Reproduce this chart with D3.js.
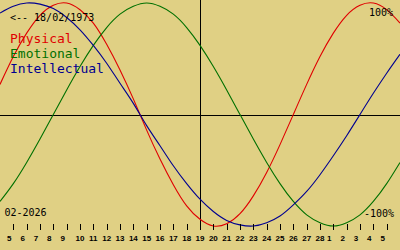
<!DOCTYPE html>
<html>
<head>
<meta charset="utf-8">
<script src="https://cdn.jsdelivr.net/npm/d3@7"></script>
<style>
  body { margin: 0; background: #e0d084; }
  svg { display: block; }
</style>
</head>
<body>
<svg id="chart" width="400" height="250"></svg>
<script>
// days shown, Feb 4 .. Mar 6 2026 (first/last are edge days without tick)
const dayLabels = ["4","5","6","7","8","9","10","11","12","13","14","15","16","17","18","19","20","21","22","23","24","25","26","27","28","1","2","3","4","5","6"];
const physical = [0.27,0.52,0.73,0.89,0.98,1.00,0.94,0.82,0.63,0.40,0.14,-0.14,-0.40,-0.63,-0.82,-0.94,-1.00,-0.98,-0.89,-0.73,-0.52,-0.27,0,0.27,0.52,0.73,0.89,0.98,1.00,0.94,0.82];
const emotional = [-0.78,-0.62,-0.43,-0.22,0,0.22,0.43,0.62,0.78,0.90,0.97,1.00,0.97,0.90,0.78,0.62,0.43,0.22,0,-0.22,-0.43,-0.62,-0.78,-0.90,-0.97,-1.00,-0.97,-0.90,-0.78,-0.62,-0.43];
const intellectual = [0.91,0.97,1.00,0.99,0.95,0.87,0.76,0.62,0.46,0.28,0.10,-0.10,-0.28,-0.46,-0.62,-0.76,-0.87,-0.95,-0.99,-1.00,-0.97,-0.91,-0.81,-0.69,-0.54,-0.37,-0.19,0,0.19,0.37,0.54];
const legend = ["Physical","Emotional","Intellectual"];
const colors = ["#e00000","#007000","#000090"];
const birthText = "<-- 18/02/1973";
const monthText = "02-2026";

const svg = d3.select("#chart");
const W = 400, H = 250;

let x = d3.scaleLinear().domain([0, 30]).range([0, W]);
let y = d3.scaleLinear().domain([-1, 1]).range([226, 3]);

// axes cross
svg.append("line").attr("x1",0).attr("x2",W).attr("y1",115.5).attr("y2",115.5)
  .attr("stroke","#000").attr("stroke-width",1);
svg.append("line").attr("x1",200.5).attr("x2",200.5).attr("y1",0).attr("y2",225)
  .attr("stroke","#000").attr("stroke-width",1);

// curves
let line = d3.line().x((d,i)=>x(i)).y(d=>y(d)).curve(d3.curveNatural);
[physical, emotional, intellectual].map((s,k)=>{
  svg.append("path").attr("d", line(s))
    .attr("fill","none").attr("stroke",colors[k]).attr("stroke-width",1.1);
});

// day ticks
let ticks = d3.range(1, 30);
svg.selectAll(".tick").data(ticks).enter().append("line")
  .attr("x1",d=>Math.round(x(d))+0.5).attr("x2",d=>Math.round(x(d))+0.5)
  .attr("y1",224).attr("y2",230).attr("stroke","#000");
svg.selectAll(".lbl").data(ticks).enter().append("text")
  .attr("x",d=>x(d) - (dayLabels[d].length==1 ? 4 : 0))
  .attr("y",240.5)
  .attr("text-anchor","middle")
  .attr("font-family","Liberation Sans").attr("font-size","8px").attr("font-weight","bold")
  .text(d=>dayLabels[d]);

// texts
const mono = "DejaVu Sans Mono";
svg.append("text").attr("x",10).attr("y",20.5).attr("font-family",mono).attr("font-size","10px").text(birthText);
legend.map((l,k)=>{
  svg.append("text").attr("x",10).attr("y",43+k*15).attr("font-family",mono).attr("font-size","13px")
    .attr("fill",colors[k]).text(l);
});
svg.append("text").attr("x",393).attr("y",16).attr("text-anchor","end").attr("font-family",mono).attr("font-size","10px").text("100%");
svg.append("text").attr("x",394).attr("y",216.5).attr("text-anchor","end").attr("font-family",mono).attr("font-size","10px").text("-100%");
svg.append("text").attr("x",4.5).attr("y",216).attr("font-family",mono).attr("font-size","10px").text(monthText);
</script>
</body>
</html>
